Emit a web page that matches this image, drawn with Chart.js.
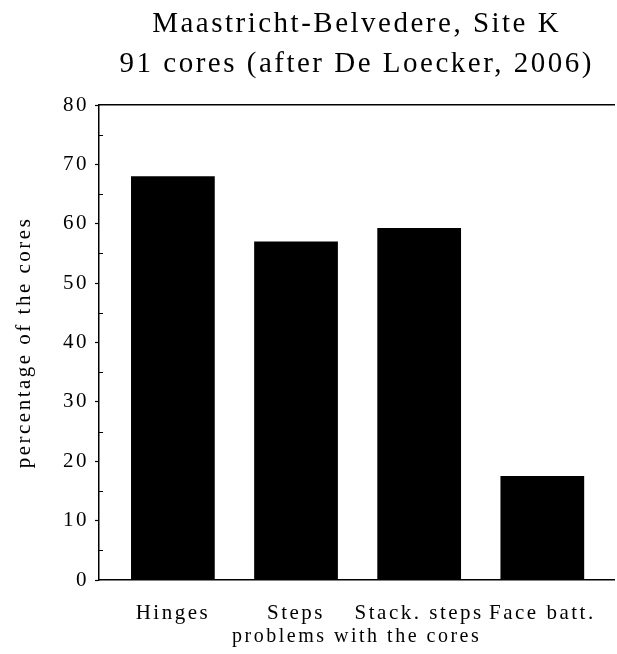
<!DOCTYPE html>
<html>
<head>
<meta charset="utf-8">
<script src="https://cdn.jsdelivr.net/npm/chart.js"></script>
<style>
  html, body { margin: 0; padding: 0; background: #fff; }
  #wrap { width: 617px; height: 654px; }
</style>
</head>
<body>
<div id="wrap"><canvas id="coresChart"></canvas></div>
<script>
// Problems with the cores, Maastricht-Belvedere Site K
const categorias = ["Hinges", "Steps", "Stack. steps", "Face batt."];
const porcentajes = [68, 57, 59.3, 17.5];
const yTicks = [0, 10, 20, 30, 40, 50, 60, 70, 80];
const yMinorTicks = [5, 15, 25, 35, 45, 55, 65, 75];

const FUENTE = "'Liberation Serif', 'Times New Roman', serif";
const ESPACIADO = "2.5px";

Chart.defaults.color = "#000";
Chart.defaults.font.family = FUENTE;

// letter spacing del texto escaneado (el canvas se reinicia al redimensionar)
const espaciado = {
    id: "espaciado",
    beforeUpdate(chart) { chart.ctx.letterSpacing = ESPACIADO; },
    beforeLayout(chart) { chart.ctx.letterSpacing = ESPACIADO; },
    beforeDraw(chart) { chart.ctx.letterSpacing = ESPACIADO; }
};

// marcas menores hacia dentro en el eje y
const marcasMenores = {
    id: "marcasMenores",
    afterDatasetsDraw(chart) {
        const y = chart.scales.y;
        const ctx = chart.ctx;
        ctx.save();
        ctx.strokeStyle = "#000";
        ctx.lineWidth = 1.2;
        ctx.beginPath();
        yMinorTicks.forEach(v => {
            const py = Math.round(y.getPixelForValue(v)) + 0.5;
            ctx.moveTo(y.right, py);
            ctx.lineTo(y.right + 4, py);
        });
        ctx.stroke();
        ctx.restore();
    }
};

const ctx = document.getElementById("coresChart").getContext("2d");

new Chart(ctx, {
    type: "bar",
    data: {
        datasets: [{
            label: "percentage of the cores",
            data: categorias.map((c, i) => ({ x: i + 1, y: porcentajes[i] })),
            backgroundColor: "#000",
            borderWidth: 0,
            categoryPercentage: 1,
            barPercentage: 0.68
        }]
    },
    options: {
        responsive: true,
        maintainAspectRatio: false,
        animation: false,
        layout: { padding: 0 },
        plugins: {
            legend: { display: false },
            tooltip: { enabled: false },
            title: {
                display: true,
                fullSize: false,
                text: ["Maastricht-Belvedere, Site K", "91 cores (after De Loecker, 2006)"],
                color: "#000",
                font: { family: FUENTE, size: 29, weight: "normal", lineHeight: 40 / 29 },
                padding: { top: 4, bottom: 21 }
            }
        },
        scales: {
            x: {
                type: "linear",
                position: "bottom",
                offset: false,
                min: 0.4,
                max: 4.585,
                afterFit(scale) { scale.height = 74; },
                grid: { display: false, drawTicks: false },
                border: { display: true, color: "#000", width: 1.5 },
                ticks: {
                    stepSize: 1,
                    includeBounds: false,
                    autoSkip: false,
                    maxRotation: 0,
                    padding: 21,
                    color: "#000",
                    font: { size: 21 },
                    callback: v => Number.isInteger(v) ? categorias[v - 1] : ""
                },
                title: {
                    display: true,
                    text: "problems with the cores",
                    color: "#000",
                    font: { size: 20 },
                    padding: { top: 0, bottom: 5 }
                }
            },
            xTop: {
                type: "linear",
                position: "top",
                min: 0,
                max: 1,
                grid: { display: false, drawTicks: false },
                border: { display: true, color: "#000", width: 1.5 },
                ticks: { display: false }
            },
            y: {
                min: 0,
                max: 80,
                afterFit(scale) { scale.width = 99; },
                afterBuildTicks(scale) { scale.ticks = yTicks.map(v => ({ value: v })); },
                grid: {
                    display: true,
                    drawOnChartArea: false,
                    drawTicks: true,
                    tickLength: 4,
                    tickWidth: 1.2,
                    color: "#000"
                },
                border: { display: true, color: "#000", width: 1.5 },
                ticks: {
                    padding: 6,
                    color: "#000",
                    font: { size: 21 }
                },
                title: {
                    display: true,
                    text: "percentage of the cores",
                    color: "#000",
                    font: { size: 21 },
                    padding: { top: 12, bottom: 0 }
                }
            }
        }
    },
    plugins: [espaciado, marcasMenores]
});
</script>
</body>
</html>
